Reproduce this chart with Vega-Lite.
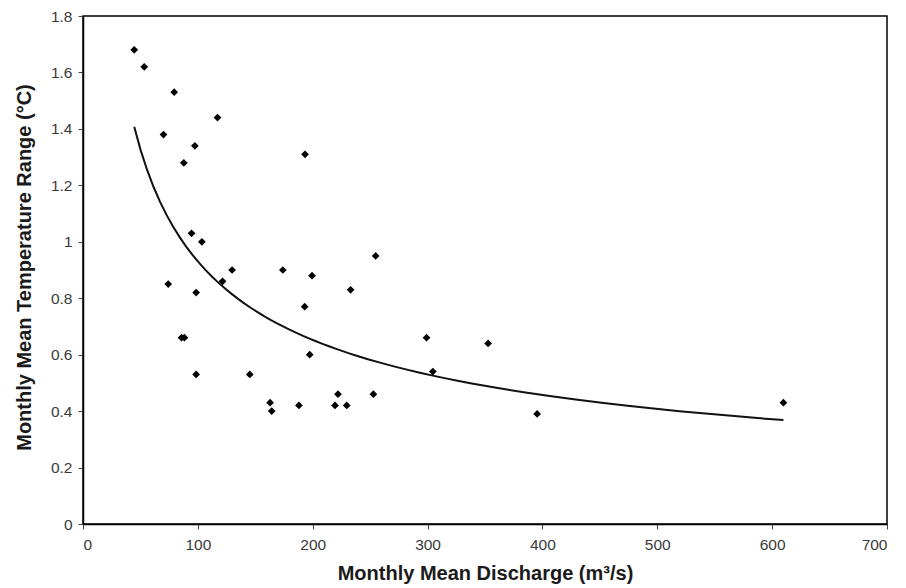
{
  "$schema": "https://vega.github.io/schema/vega-lite/v6.json",
  "width": 804,
  "height": 508,
  "autosize": {"type": "none"},
  "padding": {"left": 83, "top": 16, "right": 19, "bottom": 64},
  "background": "white",
  "config": {
    "view": {"stroke": "#000", "strokeWidth": 1.5},
    "font": "Liberation Sans",
    "axis": {
      "grid": false,
      "domainColor": "#000",
      "domainWidth": 1.5,
      "tickColor": "#444",
      "tickSize": 5,
      "labelFont": "Liberation Sans",
      "labelFontSize": 15.5,
      "labelColor": "#3a3a3a",
      "titleFont": "Liberation Sans",
      "titleFontSize": 20,
      "titleFontWeight": "bold",
      "titleColor": "#1a1a1a"
    }
  },
  "data": {
    "values": [
      {"q": 44.6, "t": 1.68},
      {"q": 53.3, "t": 1.62},
      {"q": 79.4, "t": 1.53},
      {"q": 117.1, "t": 1.44},
      {"q": 70.1, "t": 1.38},
      {"q": 97.4, "t": 1.34},
      {"q": 87.8, "t": 1.28},
      {"q": 193.3, "t": 1.31},
      {"q": 94.5, "t": 1.03},
      {"q": 103.5, "t": 1.0},
      {"q": 129.8, "t": 0.9},
      {"q": 174, "t": 0.9},
      {"q": 199.4, "t": 0.88},
      {"q": 254.8, "t": 0.95},
      {"q": 74.2, "t": 0.85},
      {"q": 98.5, "t": 0.82},
      {"q": 121.5, "t": 0.86},
      {"q": 233, "t": 0.83},
      {"q": 193, "t": 0.77},
      {"q": 85.8, "t": 0.66},
      {"q": 88.3, "t": 0.66},
      {"q": 197.4, "t": 0.6},
      {"q": 98.5, "t": 0.53},
      {"q": 145.2, "t": 0.53},
      {"q": 162.9, "t": 0.43},
      {"q": 164.3, "t": 0.4},
      {"q": 188, "t": 0.42},
      {"q": 219.4, "t": 0.42},
      {"q": 229.6, "t": 0.42},
      {"q": 222, "t": 0.46},
      {"q": 252.8, "t": 0.46},
      {"q": 299.1, "t": 0.66},
      {"q": 352.7, "t": 0.64},
      {"q": 304.6, "t": 0.54},
      {"q": 395.4, "t": 0.39},
      {"q": 609.8, "t": 0.43}
    ]
  },
  "layer": [
    {
      "transform": [{"regression": "t", "on": "q", "method": "pow"}],
      "mark": {"type": "line", "color": "#111", "strokeWidth": 2},
      "encoding": {
        "x": {"field": "q", "type": "quantitative"},
        "y": {"field": "t", "type": "quantitative"}
      }
    },
    {
      "mark": {"type": "point", "shape": "diamond", "filled": true, "color": "#000", "size": 60, "opacity": 1},
      "encoding": {
        "x": {
          "field": "q",
          "type": "quantitative",
          "scale": {"domain": [0, 700], "nice": false},
          "axis": {"values": [0, 100, 200, 300, 400, 500, 600, 700], "title": "Monthly Mean Discharge (m³/s)", "labelPadding": 8, "titlePadding": 11}
        },
        "y": {
          "field": "t",
          "type": "quantitative",
          "scale": {"domain": [0, 1.8], "nice": false},
          "axis": {"values": [0, 0.2, 0.4, 0.6, 0.8, 1, 1.2, 1.4, 1.6, 1.8], "format": "~f", "title": "Monthly Mean Temperature Range (°C)", "labelPadding": 6, "titlePadding": 16, "titleY": 251}
        }
      }
    }
  ]
}
